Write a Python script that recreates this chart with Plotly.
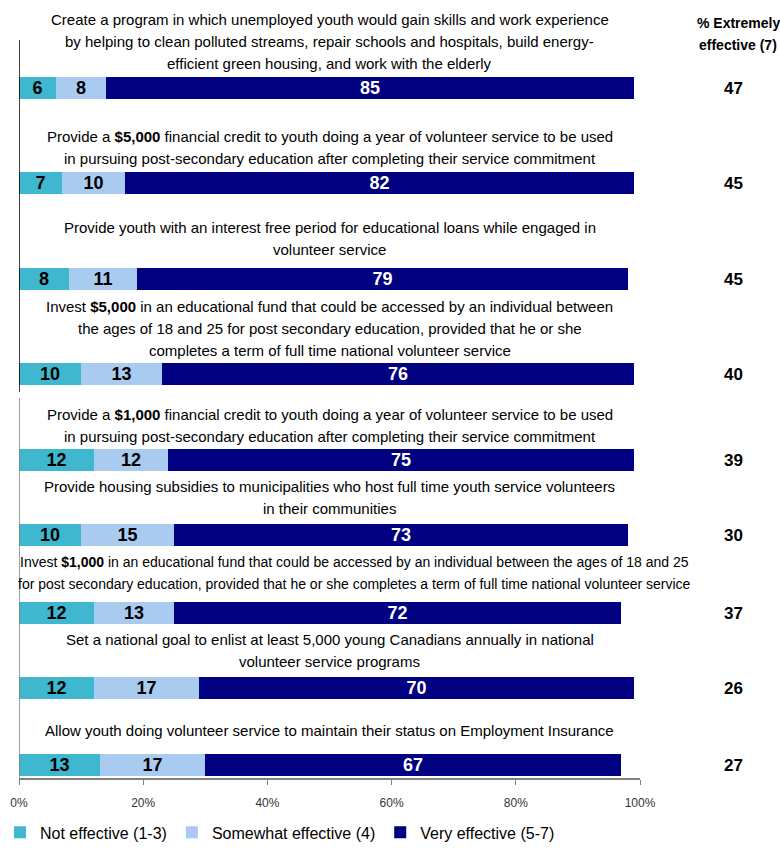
import plotly.graph_objects as go

# Survey items (display order, top to bottom); <br> marks the line breaks
items = [
    "Create a program in which unemployed youth would gain skills and work experience<br>"
    "by helping to clean polluted streams, repair schools and hospitals, build energy-<br>"
    "efficient green housing, and work with the elderly",
    "Provide a <b>$5,000</b> financial credit to youth doing a year of volunteer service to be used<br>"
    "in pursuing post-secondary education after completing their service commitment",
    "Provide youth with an interest free period for educational loans while engaged in<br>"
    "volunteer service",
    "Invest <b>$5,000</b> in an educational fund that could be accessed by an individual between<br>"
    "the ages of 18 and 25 for post secondary education, provided that he or she<br>"
    "completes a term of full time national volunteer service",
    "Provide a <b>$1,000</b> financial credit to youth doing a year of volunteer service to be used<br>"
    "in pursuing post-secondary education after completing their service commitment",
    "Provide housing subsidies to municipalities who host full time youth service volunteers<br>"
    "in their communities",
    "Invest <b>$1,000</b> in an educational fund that could be accessed by an individual between the ages of 18 and 25<br>"
    "for post secondary education, provided that he or she completes a term of full time national volunteer service",
    "Set a national goal to enlist at least 5,000 young Canadians annually in national<br>"
    "volunteer service programs",
    "Allow youth doing volunteer service to maintain their status on Employment Insurance",
]

not_effective = [6, 7, 8, 10, 12, 10, 12, 12, 13]
somewhat_effective = [8, 10, 11, 13, 12, 15, 13, 17, 17]
very_effective = [85, 82, 79, 76, 75, 73, 72, 70, 67]
extremely_effective = [47, 45, 45, 40, 39, 30, 37, 26, 27]

series_names = ["Not effective (1-3)", "Somewhat effective (4)", "Very effective (5-7)"]
series_values = [not_effective, somewhat_effective, very_effective]
series_colors = ["#3FB8CF", "#A9CBF0", "#000080"]
label_colors = ["#000000", "#000000", "#FFFFFF"]

# Layout: vertical row centres (axis units = pixels from the top) and label placement
row_y = [88, 183, 279, 374, 460, 535, 613, 688, 765]
label_gap = [14, 14, 19, 13, 13, 16, 18, 16, 24]
label_x = [0.5, 0.5, 0.5, 0.5, 0.5, 0.5, 0.54, 0.5, 0.5]
label_size = [15, 15, 15, 15, 15, 15, 14, 15, 15]
line_step = 22
bar_height = 22
plot_bottom = 778

FONT = "Liberation Sans, Arial, sans-serif"

fig = go.Figure()
for name, vals, color, tcolor in zip(series_names, series_values, series_colors, label_colors):
    fig.add_trace(go.Bar(
        name=name,
        x=[v / 100 for v in vals],
        y=row_y,
        orientation="h",
        width=bar_height,
        marker=dict(color=color, line=dict(width=0)),
        text=[str(v) for v in vals],
        textposition="inside",
        insidetextanchor="middle",
        textangle=0,
        constraintext="none",
        textfont=dict(family=FONT, size=18, color=tcolor, weight="bold"),
        hoverinfo="skip",
    ))

annotations = []
# Item texts, one annotation per line so the line pitch can be set
for label, ry, gap, lx, fs in zip(items, row_y, label_gap, label_x, label_size):
    lines = label.split("<br>")
    n = len(lines)
    bottom_line_y = ry - bar_height / 2 - gap
    for i, line in enumerate(lines):
        annotations.append(dict(
            text=line, x=lx, xref="paper",
            y=bottom_line_y - (n - 1 - i) * line_step, yref="y",
            xanchor="center", yanchor="middle", showarrow=False,
            font=dict(family=FONT, size=fs, color="#000000"),
        ))
# "% Extremely effective" column
for val, ry in zip(extremely_effective, row_y):
    annotations.append(dict(
        text=f"<b>{val}</b>", x=1.15, xref="paper", y=ry, yref="y",
        xanchor="center", yanchor="middle", showarrow=False,
        font=dict(family=FONT, size=17, color="#000000"),
    ))
for txt, yy in [("<b>% Extremely</b>", 23), ("<b>effective (7)</b>", 45)]:
    annotations.append(dict(
        text=txt, x=1.158, xref="paper", y=yy, yref="y",
        xanchor="center", yanchor="middle", showarrow=False,
        font=dict(family=FONT, size=14, color="#000000"),
    ))

shapes = [
    dict(type="line", xref="x", yref="y", x0=0, x1=0, y0=40, y1=392,
         line=dict(color="#000000", width=1.5)),
    dict(type="line", xref="x", yref="y", x0=0, x1=0, y0=398, y1=plot_bottom,
         line=dict(color="#808080", width=1.5)),
]

fig.update_layout(
    width=780, height=850,
    margin=dict(l=18, r=140, t=0, b=850 - plot_bottom, pad=0),
    barmode="stack",
    bargap=0,
    plot_bgcolor="white",
    paper_bgcolor="white",
    showlegend=True,
    legend=dict(
        orientation="h", x=-0.031, xanchor="left", y=-0.07, yanchor="middle",
        font=dict(family=FONT, size=16, color="#000000"),
        bgcolor="rgba(0,0,0,0)",
        itemsizing="constant", traceorder="normal", itemwidth=30,
    ),
    annotations=annotations,
    shapes=shapes,
    xaxis=dict(
        range=[0, 1], tickvals=[0, 0.2, 0.4, 0.6, 0.8, 1.0], tickformat=".0%",
        showgrid=False, zeroline=False,
        showline=True, linecolor="#808080", linewidth=1.5,
        ticks="outside", ticklen=5, tickcolor="#808080",
        tickfont=dict(family=FONT, size=12, color="#333333"),
        ticklabelstandoff=8,
        fixedrange=True,
    ),
    yaxis=dict(
        range=[plot_bottom, 0], showticklabels=False, showgrid=False,
        zeroline=False, showline=False, ticks="", fixedrange=True,
    ),
)

fig.write_html("out.html")
